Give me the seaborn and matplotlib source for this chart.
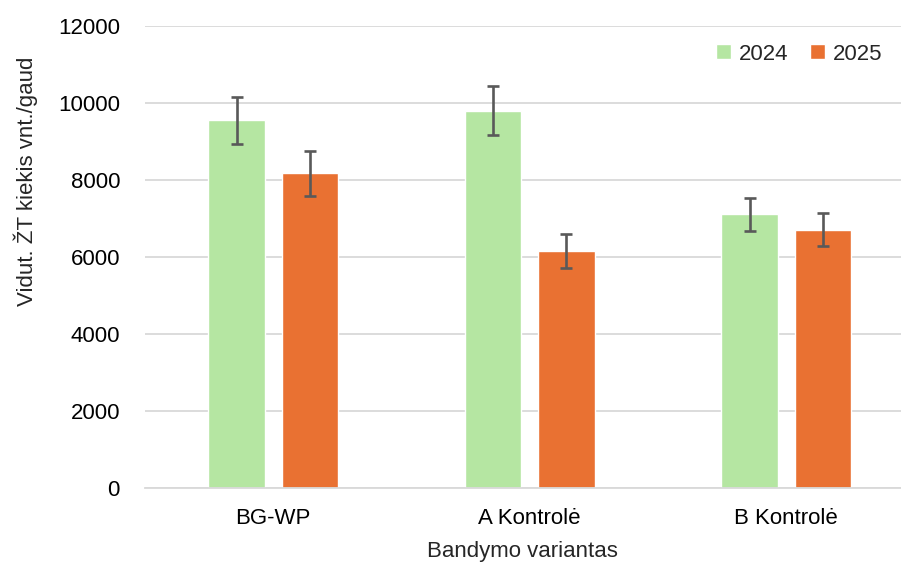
import pandas as pd
import numpy as np
import seaborn as sns
import matplotlib.pyplot as plt

variantai = ["BG-WP", "A Kontrolė", "B Kontrolė"]
metai = ["2024", "2025"]
vid_2024 = [9550, 9800, 7110]
vid_2025 = [8180, 6150, 6710]
err_2024 = [610, 630, 430]
err_2025 = [585, 435, 430]

df = pd.DataFrame({
    "variantas": variantai * 2,
    "metai": [metai[0]] * 3 + [metai[1]] * 3,
    "kiekis": vid_2024 + vid_2025,
    "err": err_2024 + err_2025,
})

sns.set_style("white")
plt.rcParams['font.family'] = ['Liberation Sans', 'DejaVu Sans']

W, H = 901, 568
fig = plt.figure(figsize=(W / 100, H / 100), dpi=100)
# ašys šiek tiek išeina už paveikslo dešinio krašto (kaip originale)
ax = fig.add_axes([145 / W, 1 - 488 / H, 769.5 / W, 462 / H])

sns.barplot(data=df, x="variantas", y="kiekis", hue="metai",
            palette=["#B5E6A2", "#E97132"], saturation=1, width=0.573, gap=0.225,
            errorbar=None, ax=ax, zorder=2)

# klaidų stulpeliai pagal nupieštus stulpelius
bars = ax.patches[:len(df)]
for bar, e in zip(bars, df["err"]):
    xc = bar.get_x() + bar.get_width() / 2
    ax.errorbar(xc, bar.get_height(), yerr=e, fmt='none', ecolor='#595959',
                elinewidth=1.9, capsize=4, capthick=1.9, zorder=3)

ax.set_xlim(-0.5, 2.5)
ax.set_ylim(0, 12000)
ax.set_yticks(range(0, 12001, 2000))
ax.yaxis.grid(True, color='#D9D9D9', linewidth=1.3, zorder=0)
ax.set_axisbelow(True)
for s in ['left', 'right', 'top']:
    ax.spines[s].set_visible(False)
ax.spines['bottom'].set_color('#D9D9D9')
ax.spines['bottom'].set_linewidth(1.3)
ax.tick_params(axis='both', length=0, labelsize=16, colors='#000000')
ax.tick_params(axis='y', pad=18)
ax.tick_params(axis='x', pad=14.5)

ax.set_xlabel("")
ax.set_ylabel("")
fig.text(522 / W, 1 - 541 / H, "Bandymo variantas", fontsize=16,
         ha='center', va='top')
fig.text(26 / W, 1 - 181 / H, "Vidut. ŽT kiekis vnt./gaud", fontsize=16,
         rotation=90, ha='center', va='center')

ax.legend(loc='center right', bbox_to_anchor=(893 / W, 1 - 54 / H),
          bbox_transform=fig.transFigure, ncol=2, frameon=False, borderpad=0,
          fontsize=16, handlelength=0.68, handleheight=0.68, handletextpad=0.32,
          columnspacing=1.0)

fig.savefig("out.png", dpi=100)
